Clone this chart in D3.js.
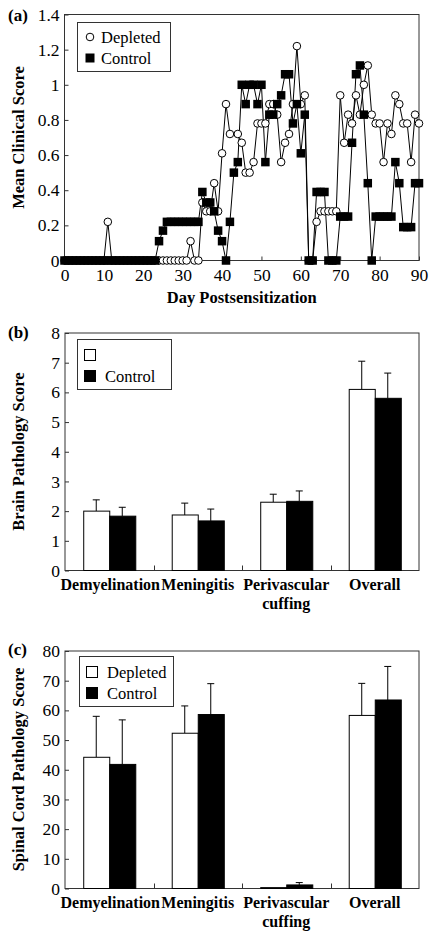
<!DOCTYPE html>
<html><head><meta charset="utf-8">
<script src="https://cdn.jsdelivr.net/npm/d3@7/dist/d3.min.js"></script>
<style>
body{margin:0;background:#fff}
svg{display:block}
text{font-family:"Liberation Serif","Times New Roman",serif;fill:#000}
</style>
</head><body>
<svg id="chart" width="437" height="939"></svg>
<script>
// ---------- Panel (a) data ----------
const depletedDays = [0,1,2,3,4,5,6,7,8,9,10,11,12,13,14,15,16,17,18,19,20,21,22,23,24,25,26,27,28,29,30,31,32,33,34,35,36,37,38,39,40,41,42,44,45,46,47,48,49,50,51,52,53,54,55,56,57,58,59,60,61,62,63,64,65,66,67,68,69,70,71,72,73,74,75,76,77,78,79,80,81,82,83,84,85,86,87,88,89,90];
const depletedScores = [0,0,0,0,0,0,0,0,0,0,0,0.22,0,0,0,0,0,0,0,0,0,0,0,0,0,0,0,0,0,0,0,0,0.11,0,0,0.33,0.28,0.28,0.44,0.28,0.61,0.89,0.72,0.72,0.67,0.5,0.5,0.56,0.78,0.78,0.78,0.89,0.89,0.83,0.56,0.67,0.72,0.89,1.22,0.89,0.94,0,0,0.22,0.28,0.28,0.28,0.28,0.28,0.94,0.67,0.83,0.78,0.94,0.83,1.0,1.11,0.83,0.78,0.78,0.56,0.78,0.72,0.94,0.89,0.78,0.78,0.56,0.83,0.78];
const controlDays = [0,1,2,3,4,5,6,7,8,9,10,11,12,13,14,15,16,17,18,19,20,21,22,23,24,25,26,27,28,29,30,31,32,33,34,35,36,37,38,39,40,41,42,43,44,45,46,47,48,49,50,51,52,53,54,55,56,57,58,59,60,61,62,63,64,65,66,67,68,69,70,71,72,73,74,75,76,77,78,79,80,81,82,83,84,85,86,87,88,89,90];
const controlScores = [0,0,0,0,0,0,0,0,0,0,0,0,0,0,0,0,0,0,0,0,0,0,0,0,0.11,0.17,0.22,0.22,0.22,0.22,0.22,0.22,0.22,0.22,0.22,0.39,0.33,0.33,0.28,0.17,0.11,0,0.22,0.5,0.56,1.0,0.89,1.0,1.0,0.89,1.0,0.56,0.83,0.83,0.89,0.94,1.06,1.06,0.78,0.89,0.61,0.83,0,0,0.39,0.39,0.39,0,0,0,0.25,0.25,0.25,0.67,1.06,1.11,0.83,0.44,0,0.25,0.25,0.25,0.25,0.25,0.56,0.44,0.19,0.19,0.19,0.44,0.44];
const dayTicks = [0,10,20,30,40,50,60,70,80,90];
const clinicalTicks = [0,0.2,0.4,0.6,0.8,1,1.2,1.4];

// ---------- Panels (b) and (c) data ----------
const categories = ["Demyelination","Meningitis","Perivascular cuffing","Overall"];
const groups = ["Depleted","Control"];
const brainDepleted = [2.0,1.87,2.3,6.1];
const brainDepletedErr = [0.38,0.40,0.27,0.95];
const brainControl = [1.83,1.67,2.33,5.8];
const brainControlErr = [0.30,0.40,0.35,0.85];
const brainTicks = [0,1,2,3,4,5,6,7,8];
const spinalDepleted = [44.2,52.3,0.3,58.3];
const spinalDepletedErr = [13.8,9.2,0,10.8];
const spinalControl = [41.8,58.6,1.2,63.5];
const spinalControlErr = [15.0,10.4,0.8,11.3];
const spinalTicks = [0,10,20,30,40,50,60,70,80];

const svg = d3.select("#chart");
const FRAME = "#333";
const TICKFONT = 17.5;

function frame(g, x0, x1, y0, y1){
  g.append("rect").attr("x",x0).attr("y",y0).attr("width",x1-x0).attr("height",y1-y0)
    .attr("fill","none").attr("stroke",FRAME).attr("stroke-width",1);
}
function styleAxis(sel){
  sel.attr("font-family",null).attr("font-size",null);
  sel.select(".domain").remove();
  sel.selectAll(".tick line").attr("stroke",FRAME);
  sel.selectAll(".tick text").attr("font-size",TICKFONT);
}
function yTitle(txt, cy){
  svg.append("text").attr("transform",`translate(24,${cy}) rotate(-90)`)
    .attr("text-anchor","middle").attr("font-weight","bold").attr("font-size",16.5).text(txt);
}
function panelLabel(txt, y){
  svg.append("text").attr("x",8).attr("y",y).attr("font-weight","bold").attr("font-size",17).text(txt);
}

// ================= Panel (a) =================
{
  const L=64.5, R=419, T=14.5, B=260.5;
  const x = d3.scaleLinear().domain([0,90]).range([L,R]);
  const y = d3.scaleLinear().domain([0,1.4]).range([B,T]);
  const g = svg.append("g");
  frame(g,L,R,T,B);
  g.append("g").attr("transform",`translate(0,${B})`)
    .call(d3.axisBottom(x).tickValues(dayTicks).tickSize(-4).tickPadding(8).tickFormat(d3.format("d")))
    .call(styleAxis);
  g.append("g").attr("transform",`translate(${L},0)`)
    .call(d3.axisLeft(y).tickValues(clinicalTicks).tickSize(-4).tickPadding(5).tickFormat(d=>String(+d.toFixed(1))))
    .call(styleAxis);

  const dep = depletedDays.map((d,i)=>({d, v:depletedScores[i]}));
  const con = controlDays.map((d,i)=>({d, v:controlScores[i]}));
  const line = d3.line().x(p=>x(p.d)).y(p=>y(p.v));
  g.append("path").datum(dep).attr("d",line).attr("fill","none").attr("stroke","#000").attr("stroke-width",1);
  g.append("path").datum(con).attr("d",line).attr("fill","none").attr("stroke","#000").attr("stroke-width",1);
  g.selectAll("circle.dep").data(dep).join("circle").attr("class","dep")
    .attr("cx",p=>x(p.d)).attr("cy",p=>y(p.v)).attr("r",3.8)
    .attr("fill","#fff").attr("stroke","#000").attr("stroke-width",1);
  const s=8.5;
  g.selectAll("rect.con").data(con).join("rect").attr("class","con")
    .attr("x",p=>x(p.d)-s/2).attr("y",p=>y(p.v)-s/2).attr("width",s).attr("height",s).attr("fill","#000");

  // legend
  g.append("rect").attr("x",77.5).attr("y",22.5).attr("width",93).attr("height",49)
    .attr("fill","#fff").attr("stroke",FRAME);
  g.append("circle").attr("cx",90).attr("cy",37).attr("r",3.8).attr("fill","#fff").attr("stroke","#000");
  g.append("rect").attr("x",85.5).attr("y",53.5).attr("width",9).attr("height",9).attr("fill","#000");
  g.append("text").attr("x",101).attr("y",43).attr("font-size",16.5).text(groups[0]);
  g.append("text").attr("x",101).attr("y",64).attr("font-size",16.5).text(groups[1]);

  svg.append("text").attr("x",(L+R)/2).attr("y",303).attr("text-anchor","middle")
    .attr("font-weight","bold").attr("font-size",16.5).text("Day Postsensitization");
  yTitle("Mean Clinical Score",(T+B)/2);
  panelLabel("(a)",21);
}

// ================= Bar panels =================
function barPanel(opts){
  const {L,R,T,B,domain,ticks,dep,depErr,con,conErr,legendY,legendLabels,labelY} = opts;
  const x = d3.scaleBand().domain(categories).range([L,R]).padding(0);
  const xs = d3.scaleBand().domain(groups).range([0,x.bandwidth()]).paddingInner(0).paddingOuter(0.7);
  const y = d3.scaleLinear().domain(domain).range([B,T]);
  const g = svg.append("g");
  frame(g,L,R,T,B);
  g.append("g").attr("transform",`translate(${L},0)`)
    .call(d3.axisLeft(y).tickValues(ticks).tickSize(-4).tickPadding(5).tickFormat(d3.format("d")))
    .call(styleAxis);
  // minor ticks at group boundaries
  g.selectAll("line.sep").data(categories.slice(1)).join("line").attr("class","sep")
    .attr("x1",c=>Math.round(x(c))+0.5).attr("x2",c=>Math.round(x(c))+0.5)
    .attr("y1",B).attr("y2",B-5).attr("stroke",FRAME);

  const rows = [];
  categories.forEach((c,i)=>{
    rows.push({c,grp:"Depleted",v:dep[i],e:depErr[i]});
    rows.push({c,grp:"Control",v:con[i],e:conErr[i]});
  });
  const cxOf = r=>x(r.c)+xs(r.grp)+xs.bandwidth()/2;
  const eb = g.selectAll("g.eb").data(rows.filter(r=>r.e>0)).join("g").attr("class","eb");
  eb.append("line").attr("x1",cxOf).attr("x2",cxOf)
    .attr("y1",r=>y(r.v)).attr("y2",r=>y(r.v+r.e)).attr("stroke","#000");
  eb.append("line").attr("x1",r=>cxOf(r)-3.5).attr("x2",r=>cxOf(r)+3.5)
    .attr("y1",r=>y(r.v+r.e)).attr("y2",r=>y(r.v+r.e)).attr("stroke","#000");
  g.selectAll("rect.bar").data(rows).join("rect").attr("class","bar")
    .attr("x",r=>x(r.c)+xs(r.grp)+0.5).attr("y",r=>y(r.v))
    .attr("width",xs.bandwidth()).attr("height",r=>B-y(r.v))
    .attr("fill",r=>r.grp==="Depleted"?"#fff":"#000").attr("stroke","#000").attr("stroke-width",1);

  // category labels
  categories.forEach((c,i)=>{
    const words = c==="Perivascular cuffing" ? ["Perivascular","cuffing"] : [c];
    const cx = x(c)+x.bandwidth()/2 + (i===0?1:0);
    words.forEach((w,k)=>{
      svg.append("text").attr("x",cx).attr("y",labelY+k*19).attr("text-anchor","middle")
        .attr("font-weight","bold").attr("font-size",16).text(w);
    });
  });

  // legend
  const lx = opts.legendX;
  g.append("rect").attr("x",lx+0.5).attr("y",legendY+0.5).attr("width",94).attr("height",50)
    .attr("fill","#fff").attr("stroke",FRAME);
  groups.forEach((gr,k)=>{
    g.append("rect").attr("x",lx+7.5).attr("y",legendY+10.5+k*21).attr("width",11).attr("height",11)
      .attr("fill",gr==="Depleted"?"#fff":"#000").attr("stroke","#000");
    g.append("text").attr("x",lx+28).attr("y",legendY+22+k*21).attr("font-size",16.5).text(legendLabels[k]);
  });
}

barPanel({L:65,R:419,T:333,B:570.5,domain:[0,8],ticks:brainTicks,
  dep:brainDepleted,depErr:brainDepletedErr,con:brainControl,conErr:brainControlErr,
  legendX:77,legendY:339,legendLabels:["","Control"],labelY:590});
yTitle("Brain Pathology Score",(333+570)/2);
panelLabel("(b)",338);

barPanel({L:65,R:419,T:651,B:888.5,domain:[0,80],ticks:spinalTicks,
  dep:spinalDepleted,depErr:spinalDepletedErr,con:spinalControl,conErr:spinalControlErr,
  legendX:79,legendY:656,legendLabels:["Depleted","Control"],labelY:908});
yTitle("Spinal Cord Pathology Score",(651+888)/2);
panelLabel("(c)",655);
</script>
</body></html>
